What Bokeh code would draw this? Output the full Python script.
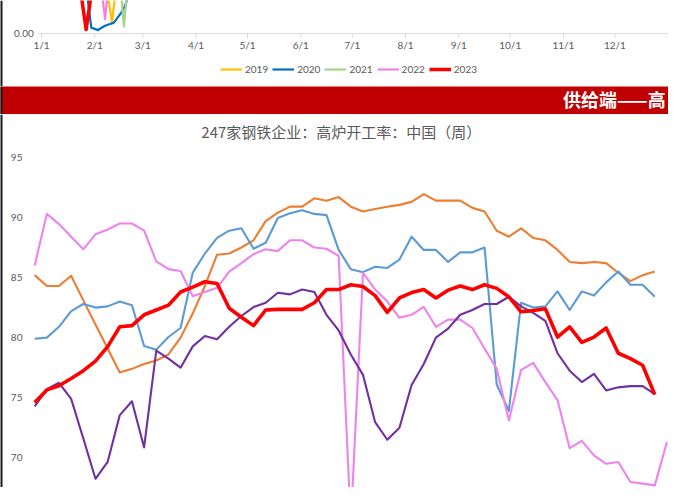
from bokeh.plotting import figure
from bokeh.models import Range1d, Legend, LegendItem, Span
from bokeh.layouts import column
from bokeh.core.properties import value
from bokeh.embed import file_html
from bokeh.resources import INLINE

# ---------------- upper (cut-off) chart: day of year -> value ----------------
top_years = ["2019", "2020", "2021", "2022", "2023"]
top_colors = ["#FFC000", "#0070C0", "#A9D18E", "#F47FE0", "#FF0000"]
top_days_2019 = [34, 41, 48]
top_vals_2019 = [140, 16.9, 167]
top_days_2020 = [25, 29, 31, 33, 35, 37, 39, 42, 44, 47, 49, 52]
top_vals_2020 = [91, 8.8, 7.2, 5.3, 9.0, 12.0, 13.7, 16.3, 23.0, 33.5, 44.5, 70]
top_days_2021 = [41, 48, 55]
top_vals_2021 = [229, 11.1, 211]
top_days_2022 = [30, 37, 44]
top_vals_2022 = [179, 21.9, 194]
top_days_2023 = [19, 26, 33]
top_vals_2023 = [131, 6.3, 131]
top_tick_days = [0, 31, 59, 90, 120, 151, 181, 212, 243, 273, 304, 334, 365]
top_tick_labels = ["1/1", "2/1", "3/1", "4/1", "5/1", "6/1", "7/1", "8/1",
                   "9/1", "10/1", "11/1", "12/1"]
top_y_ticks = [0]
top_y_labels = ["0.00"]

# ---------------- banner ----------------
banner_text = "供给端——高"

# ---------------- main chart: weekly blast-furnace utilisation (%) ----------------
main_title = "247家钢铁企业：高炉开工率：中国（周）"
main_y_ticks = [95, 90, 85, 80, 75, 70]
main_y_labels = ["95", "90", "85", "80", "75", "70"]

s2019 = [79.9, 80.0, 80.9, 82.2, 82.8, 82.5, 82.6, 83.0, 82.7, 79.3,
         79.0, 80.05, 80.8, 85.4, 87.0, 88.3, 88.9, 89.1, 87.4, 87.9,
         89.95, 90.35, 90.6, 90.3, 90.2, 87.3, 85.7, 85.45, 85.9, 85.8,
         86.5, 88.4, 87.3, 87.3, 86.3, 87.1, 87.1, 87.5, 76.1, 73.9,
         82.9, 82.5, 82.6, 83.85, 82.3, 83.85, 83.5, 84.6, 85.5, 84.4,
         84.4, 83.4]
s2020 = [85.2, 84.3, 84.3, 85.15, 83.1, 81.1, 79.1, 77.1, 77.4, 77.8,
         78.1, 78.6, 80.0, 82.0, 84.3, 86.9, 87.0, 87.5, 88.1, 89.7,
         90.4, 90.9, 90.9, 91.6, 91.4, 91.7, 90.9, 90.5, 90.7, 90.9,
         91.05, 91.3, 91.95, 91.4, 91.4, 91.4, 90.8, 90.5, 88.9, 88.4,
         89.1, 88.3, 88.1, 87.3, 86.3, 86.2, 86.3, 86.2, 85.4, 84.7,
         85.2, 85.5]
s2021 = [86.0, 90.3, 89.45, 88.4, 87.35, 88.6, 89.0, 89.5, 89.5, 88.9,
         86.35, 85.7, 85.55, 83.45, 83.8, 84.15, 85.5, 86.2, 86.95, 87.35,
         87.2, 88.1, 88.1, 87.5, 87.4, 86.8, 64.5, 85.4, 84.0, 83.0,
         81.65, 81.9, 82.55, 80.9, 81.5, 81.5, 80.8, 79.1, 77.4, 73.1,
         77.3, 77.9, 76.3, 74.8, 70.8, 71.4, 70.2, 69.5, 69.65, 67.98,
         67.85, 67.7, 71.3]
s2022 = [74.27, 75.7, 76.24, 74.9, 71.6, 68.25, 69.65, 73.55, 74.7, 70.86,
         78.92, 78.25, 77.5, 79.27, 80.13, 79.87, 80.9, 81.8, 82.54, 82.9,
         83.74, 83.6, 84.0, 83.8, 81.9, 80.6, 78.6, 76.9, 72.96, 71.5,
         72.5, 76.05, 77.8, 80.0, 80.75, 81.9, 82.3, 82.8, 82.8, 83.4,
         82.6, 82.06, 81.4, 78.7, 77.25, 76.3, 76.98, 75.6, 75.86, 75.96,
         75.96, 75.3]
s2023 = [74.6, 75.65, 76.0, 76.6, 77.25, 78.05, 79.25, 80.9, 81.0, 81.9,
         82.3, 82.7, 83.8, 84.2, 84.65, 84.5, 82.45, 81.7, 81.0, 82.3,
         82.35, 82.35, 82.35, 82.9, 84.0, 84.0, 84.4, 84.25, 83.5, 82.1,
         83.3, 83.75, 84.0, 83.3, 83.95, 84.3, 84.0, 84.4, 84.1, 83.4,
         82.15, 82.25, 82.4, 80.05, 80.9, 79.6, 80.05, 80.8, 78.7, 78.25,
         77.7, 75.25]

GRAY = "#595959"
W = 668
H_TOP, H_BAN, H_MAIN = 86, 28, 373
PX_DAY = 1.758          # horizontal scale of the upper chart (source px per day)
PX_WEEK = 12.45         # horizontal scale of the main chart (source px per week)


def bare(fig):
    fig.xgrid.visible = False
    fig.ygrid.visible = False
    fig.outline_line_color = None
    fig.min_border = 0
    return fig


def left_edge(fig):
    fig.add_layout(Span(location=fig.x_range.start, dimension="height",
                        line_color="#1a1a1a", line_width=4))


# ---------------- upper chart ----------------
top_y_top, top_y_bot = 50.0, -79.74
top = bare(figure(width=W, height=H_TOP, output_backend="svg", toolbar_location=None,
                  x_axis_type=None, y_axis_type=None,
                  x_range=Range1d(-42 / PX_DAY, (684 - 42) / PX_DAY),
                  y_range=Range1d(top_y_bot, top_y_top)))
units_per_px = (top_y_top - top_y_bot) / H_TOP

# axis line, ticks, tick labels
top.segment(x0=[-1.7], y0=[0], x1=[top_tick_days[-1] + 5], y1=[0],
            line_color="#D9D9D9", line_width=1)
top.segment(x0=top_tick_days, y0=[0] * len(top_tick_days), x1=top_tick_days,
            y1=[-4 * units_per_px] * len(top_tick_days), line_color="#D9D9D9", line_width=1)
top.text(x=top_tick_days[:-1], y=[0] * len(top_tick_labels), text=top_tick_labels,
         text_font=value("Lato"), text_font_size="10px", text_color=GRAY,
         text_align="center", text_baseline="middle", y_offset=11.5)
top.text(x=[-4.5] * len(top_y_ticks), y=top_y_ticks, text=top_y_labels,
         text_font=value("Lato"), text_font_size="10px", text_color=GRAY,
         text_align="right", text_baseline="middle")

top_series = [(top_days_2019, top_vals_2019), (top_days_2020, top_vals_2020),
              (top_days_2021, top_vals_2021), (top_days_2022, top_vals_2022),
              (top_days_2023, top_vals_2023)]
top_renderers = []
for (dx, vy), col, yr in zip(top_series, top_colors, top_years):
    lw = 3.5 if yr == "2023" else 2.2
    r = top.line(dx, vy, line_color=col, line_width=lw, line_join="round")
    top_renderers.append(r)

legend = Legend(items=[LegendItem(label=yr, renderers=[r])
                       for yr, r in zip(top_years, top_renderers)],
                location=(220, 11), orientation="horizontal",
                padding=0, margin=0, spacing=4, label_standoff=3,
                glyph_width=22, glyph_height=12, label_height=12,
                label_text_font="Lato", label_text_font_size="10px",
                label_text_color=GRAY, background_fill_alpha=0,
                border_line_alpha=0)
top.add_layout(legend)
left_edge(top)

# ---------------- banner ----------------
ban = bare(figure(width=W, height=H_BAN, output_backend="svg", toolbar_location=None,
                  x_axis_type=None, y_axis_type=None,
                  x_range=Range1d(0, 684), y_range=Range1d(118, 89),
                  background_fill_color="#C00000", border_fill_color="#C00000"))
ban.text(x=[576], y=[101.5], text=[banner_text], text_color="white",
         text_font=value("Noto Sans CJK SC"), text_font_size="18px",
         text_font_style="bold", text_align="left", text_baseline="middle")
left_edge(ban)

# ---------------- main chart ----------------
y_at_95 = 162.3  # source pixel row of the 95 label
px_unit = 12.4
main = bare(figure(width=W, height=H_MAIN, output_backend="svg", toolbar_location=None,
                   x_axis_type=None, y_axis_type=None,
                   x_range=Range1d(-35 / PX_WEEK, (684 - 35) / PX_WEEK),
                   y_range=Range1d(95 - (503 - y_at_95) / px_unit,
                                   95 + (y_at_95 - 118) / px_unit)))

main.text(x=[(349 - 35) / PX_WEEK], y=[95 + (y_at_95 - 135.5) / px_unit], text=[main_title],
          text_font=value("Noto Sans CJK SC"), text_font_size="15px", text_color=GRAY,
          text_align="center", text_baseline="middle")
main.text(x=[(22.5 - 35) / PX_WEEK] * len(main_y_ticks), y=main_y_ticks, text=main_y_labels,
          text_font=value("Lato"), text_font_size="10px", text_color=GRAY,
          text_align="right", text_baseline="middle")

main_series = [(s2020, "#ED7D31", 2.1), (s2019, "#5B9BD5", 2.1),
               (s2021, "#EE82EE", 2.1), (s2022, "#7030A0", 2.1),
               (s2023, "#FF0000", 3.6)]
for vals, col, lw in main_series:
    main.line(list(range(len(vals))), vals, line_color=col, line_width=lw,
              line_join="round")
left_edge(main)

layout = column(top, ban, main, spacing=0)
open("out.html", "w").write(file_html(layout, INLINE))
